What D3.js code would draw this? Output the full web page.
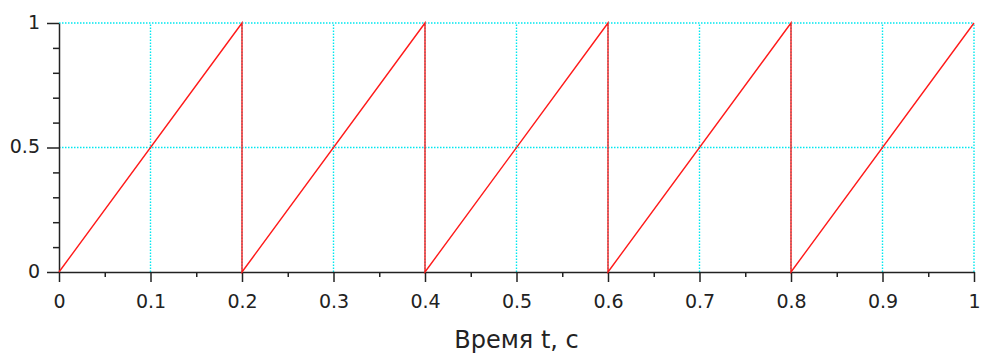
<!DOCTYPE html>
<html>
<head>
<meta charset="utf-8">
<script src="https://cdn.jsdelivr.net/npm/d3@7"></script>
<style>
  body { margin: 0; background: #fff; }
  text { font-family: "DejaVu Sans", sans-serif; }
</style>
</head>
<body>
<div id="container"></div>
<script>
/* DATA */
// sawtooth vertices, period 0.2 s
const times  = [0, 0.2, 0.2, 0.4, 0.4, 0.6, 0.6, 0.8, 0.8, 1.0];
const values = [0, 1,   0,   1,   0,   1,   0,   1,   0,   1];
const xTicks = [0, 0.1, 0.2, 0.3, 0.4, 0.5, 0.6, 0.7, 0.8, 0.9, 1];
const yTicks = [0, 0.5, 1];
const xLabel = "Время t, с";

/* CONSTANTS */
const width = 984, height = 360;
const mLeft = 59, mRight = 974, mTop = 23, mBottom = 272;

const svg = d3.select("#container").append("svg")
  .attr("width", width).attr("height", height);

/* SCALES */
const x = d3.scaleLinear().domain([0, 1]).range([mLeft, mRight]);
const y = d3.scaleLinear().domain([0, 1]).range([mBottom, mTop]);

// grid
svg.append("g").selectAll("line")
  .data(xTicks.slice(1))
  .join("line")
  .attr("x1", d => x(d)).attr("x2", d => x(d))
  .attr("y1", mBottom).attr("y2", mTop)
  .attr("stroke", "#00e8f0").attr("stroke-width", 1.4)
  .attr("stroke-dasharray", "1.5,1.5");

svg.append("g").selectAll("line")
  .data(yTicks.slice(1))
  .join("line")
  .attr("x1", mLeft).attr("x2", mRight)
  .attr("y1", d => y(d)).attr("y2", d => y(d))
  .attr("stroke", "#00e8f0").attr("stroke-width", 1.4)
  .attr("stroke-dasharray", "1.5,1.5");

// minor ticks
const xMinor = d3.range(0.05, 1, 0.1);
const yMinor = d3.range(0.1, 1, 0.1).filter(v => Math.abs(v - 0.5) > 1e-6);

svg.append("g")
  .attr("transform", `translate(0,${mBottom})`)
  .call(d3.axisBottom(x).tickValues(xMinor).tickSize(5).tickSizeOuter(0).tickFormat(""))
  .call(g => g.select(".domain").remove());

svg.append("g")
  .attr("transform", `translate(${mLeft},0)`)
  .call(d3.axisLeft(y).tickValues(yMinor).tickSize(6).tickSizeOuter(0).tickFormat(""))
  .call(g => g.select(".domain").remove());

// major axes
const xAxis = svg.append("g")
  .attr("transform", `translate(0,${mBottom})`)
  .call(d3.axisBottom(x).tickValues(xTicks).tickSize(10).tickSizeOuter(0).tickPadding(13)
    .tickFormat(d => d3.format("")(d)));

const yAxis = svg.append("g")
  .attr("transform", `translate(${mLeft},0)`)
  .call(d3.axisLeft(y).tickValues(yTicks).tickSize(12).tickSizeOuter(0).tickPadding(7)
    .tickFormat(d => d3.format("")(d)));

svg.selectAll(".tick line, .domain")
  .attr("stroke", "#222").attr("stroke-width", 1.5);
svg.selectAll(".tick text")
  .attr("font-size", 19).attr("fill", "#222")
  .attr("font-family", "DejaVu Sans, sans-serif");
yAxis.selectAll(".tick text").attr("dy", "0.28em");

// signal
const pts = times.map((t, i) => [t, values[i]]);
svg.append("path")
  .datum(pts)
  .attr("fill", "none")
  .attr("stroke", "#ff1a1a")
  .attr("stroke-width", 1.4)
  .attr("d", d3.line().x(d => x(d[0])).y(d => y(d[1])));

// x label
svg.append("text")
  .attr("x", (mLeft + mRight) / 2)
  .attr("y", 348)
  .attr("text-anchor", "middle")
  .attr("font-size", 24)
  .attr("fill", "#222")
  .text(xLabel);
</script>
</body>
</html>
